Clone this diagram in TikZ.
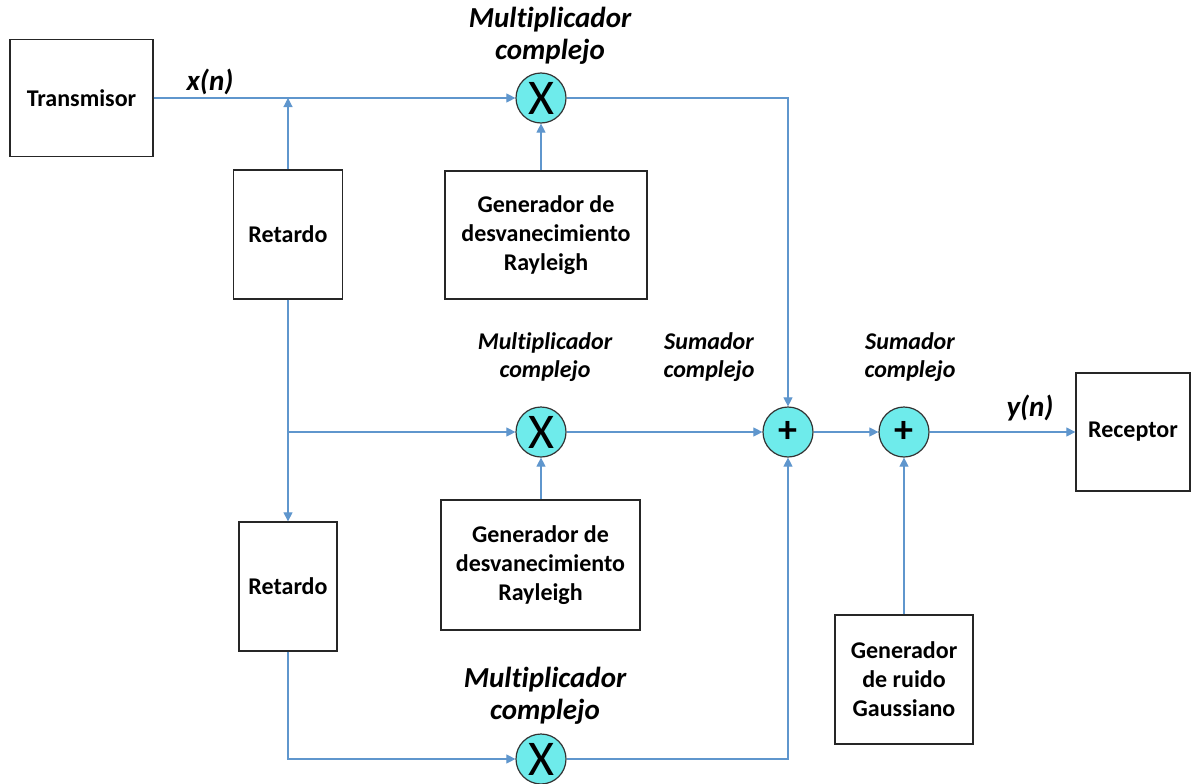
\documentclass[tikz,border=0pt]{standalone}
\usepackage{fontspec}
\setmainfont[Ligatures=NoCommon]{Carlito}
\usetikzlibrary{arrows.meta}

\definecolor{azul}{RGB}{95,150,205}
\definecolor{turquesa}{RGB}{110,235,235}

\begin{document}
\begin{tikzpicture}[x=1pt, y=-1pt,
  bloque/.style={draw=black!85, line width=1.3pt, align=center, inner sep=0pt, font=\fontsize{24}{29}\selectfont\bfseries},
  circ/.style={circle, draw=black!80, line width=1.2pt, fill=turquesa, minimum size=50pt, inner sep=0pt},
  flecha/.style={draw=azul, line width=1.1pt, -{Triangle[length=9pt,width=9pt]}},
  etiq/.style={align=center, font=\fontsize{24}{28}\selectfont\bfseries\itshape},
  etiqg/.style={align=center, font=\fontsize{29}{32}\selectfont\bfseries\itshape}]
\useasboundingbox (0,0) rectangle (1199,784);

\node[bloque, minimum width=143pt, minimum height=117pt] (tx) at (81.5,98) {Transmisor};
\node[bloque, minimum width=109pt, minimum height=129pt] (ret1) at (288,234.5) {Retardo};
\node[bloque, minimum width=98pt, minimum height=129pt] (ret2) at (288,586.5) {Retardo};
\node[bloque, minimum width=202pt, minimum height=128pt] (gen1) at (546,235) {Generador de\\desvanecimiento\\Rayleigh};
\node[bloque, minimum width=199pt, minimum height=130pt] (gen2) at (540.5,565) {Generador de\\desvanecimiento\\Rayleigh};
\node[bloque, minimum width=138pt, minimum height=129pt] (gen3) at (904,679.5) {Generador\\de ruido\\Gaussiano};
\node[bloque, minimum width=114pt, minimum height=118pt] (rx) at (1133,432) {Receptor};

\node[circ, font=\fontsize{50}{50}\selectfont] (m1) at (541,98) {X};
\node[circ, font=\fontsize{50}{50}\selectfont] (m2) at (541,432) {X};
\node[circ, font=\fontsize{50}{50}\selectfont] (m3) at (541,759) {X};
\node[circ, font=\fontsize{38}{38}\selectfont\bfseries] (s1) at (788,432) {+};
\node[circ, font=\fontsize{38}{38}\selectfont\bfseries] (s2) at (904,432) {+};

\node[etiqg] (lm1) at (550,36) {Multiplicador\\complejo};
\node[etiq] (lm2) at (545,357) {Multiplicador\\complejo};
\node[etiqg] (lm3) at (545,696) {Multiplicador\\complejo};
\node[etiq] (ls1) at (709,357) {Sumador\\complejo};
\node[etiq] (ls2) at (910,357) {Sumador\\complejo};
\node[etiqg] (lx) at (210,82) {x(n)};
\node[etiqg] (ly) at (1030,408) {y(n)};

\coordinate (c1) at (ret1.north |- m1);
\coordinate (c2) at (ret1.south |- m2);
\draw[flecha] (tx) -- (m1);
\draw[flecha] (ret1) -- (c1);
\draw[flecha] (ret1) -- (ret2);
\draw[flecha] (c2) -- (m2);
\draw[flecha] (ret2) |- (m3);
\draw[flecha] (gen1.north -| m1) -- (m1);
\draw[flecha] (gen2.north -| m2) -- (m2);
\draw[flecha] (m1) -| (s1);
\draw[flecha] (m2) -- (s1);
\draw[flecha] (m3) -| (s1);
\draw[flecha] (s1) -- (s2);
\draw[flecha] (gen3) -- (s2);
\draw[flecha] (s2) -- (rx);
\end{tikzpicture}
\end{document}
